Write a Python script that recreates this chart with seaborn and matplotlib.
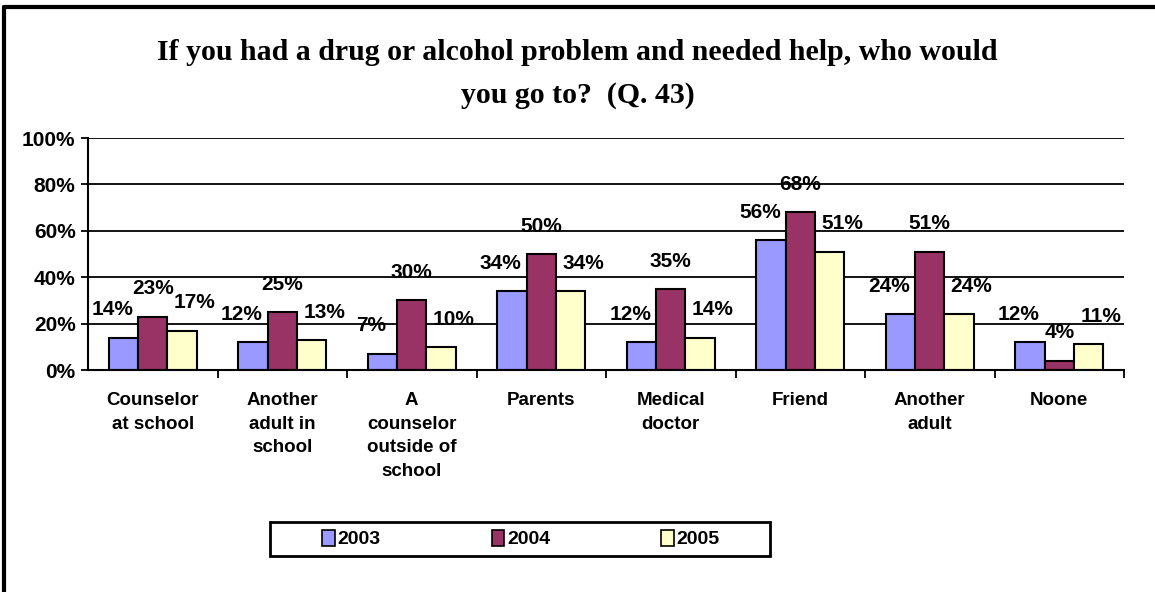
import seaborn as sns
import matplotlib.pyplot as plt
import matplotlib.lines as mlines
import pandas as pd

sns.set_theme(style="white")
plt.rcParams['font.family'] = ['Liberation Sans', 'DejaVu Sans']
plt.rcParams['font.weight'] = 'bold'
plt.rcParams['text.color'] = 'black'
plt.rcParams['xtick.color'] = 'black'
plt.rcParams['ytick.color'] = 'black'

categories = ["Counselor\nat school", "Another\nadult in\nschool",
              "A\ncounselor\noutside of\nschool", "Parents", "Medical\ndoctor",
              "Friend", "Another\nadult", "Noone"]
years = ["2003", "2004", "2005"]
v2003 = [14, 12, 7, 34, 12, 56, 24, 12]
v2004 = [23, 25, 30, 50, 35, 68, 51, 4]
v2005 = [17, 13, 10, 34, 14, 51, 24, 11]
colors = ["#9999FF", "#993366", "#FFFFCC"]
yticks = [0, 20, 40, 60, 80, 100]

rows = []
for yr, vals in zip(years, [v2003, v2004, v2005]):
    for c, v in zip(categories, vals):
        rows.append({"who": c, "year": yr, "pct": v})
df = pd.DataFrame(rows)

fig = plt.figure(figsize=(11.55, 5.92), dpi=100)
ax = fig.add_axes([88/1155, 1-370/592, (1124-88)/1155, 232/592])

sns.barplot(data=df, x="who", y="pct", hue="year", palette=colors,
            order=categories, hue_order=years, width=0.68, gap=0,
            edgecolor="black", linewidth=1.5, saturation=1, ax=ax, legend=False)

# data labels, spread sideways like the original
offs = [-8, 0, 9]
for cont, off in zip(ax.containers, offs):
    for bar in cont:
        h = bar.get_height()
        ax.annotate(f"{h:.0f}%", (bar.get_x() + bar.get_width()/2, h),
                    xytext=(off, 20), textcoords="offset points",
                    ha="center", va="center", fontsize=15, fontweight="bold")

ax.set_ylim(0, 100)
ax.set_xlim(-0.5, len(categories) - 0.5)
ax.set_yticks(yticks)
ax.set_yticklabels([f"{t}%" for t in yticks], fontsize=15, fontweight="bold")
ax.yaxis.grid(True, color="black", linewidth=1.3)
ax.set_axisbelow(True)
ax.set_xlabel("")
ax.set_ylabel("")
ax.set_xticks(range(len(categories)))
ax.set_xticklabels(categories, fontsize=13.5, fontweight="bold",
                   va="top", linespacing=1.5)
ax.tick_params(axis="x", length=0, pad=16)
ax.tick_params(axis="y", left=True, length=5, width=1.3, color="black", pad=4)
ax.set_xticks([i + 0.5 for i in range(len(categories))], minor=True)
ax.tick_params(axis="x", which="minor", bottom=True, length=6, width=1.3, color="black")
for s in ["top", "right"]:
    ax.spines[s].set_visible(False)
for s in ["left", "bottom"]:
    ax.spines[s].set_color("black")
    ax.spines[s].set_linewidth(1.5)

fig.text(0.5, 1-74/592,
         "If you had a drug or alcohol problem and needed help, who would\nyou go to?  (Q. 43)",
         ha="center", va="center", multialignment="center", fontsize=21.5,
         fontweight="bold", family="Liberation Serif", linespacing=1.75)

# legend box drawn by hand, entries centred in equal thirds
fig.add_artist(plt.Rectangle((270/1155, 1-556/592), 500/1155, 34/592,
                             transform=fig.transFigure, facecolor="white",
                             edgecolor="black", linewidth=2))
handles = [plt.Rectangle((0, 0), 1, 1, facecolor=c, edgecolor="black", linewidth=1.2)
           for c in colors]
leg = fig.legend(handles, years, ncol=3, loc="center",
                 bbox_to_anchor=(521/1155, 1-539/592),
                 prop={"size": 14, "weight": "bold"}, handlelength=0.65,
                 handleheight=0.9, handletextpad=0.15, columnspacing=5.7,
                 frameon=False, borderaxespad=0)

# outer chart border (top and left only visible)
fig.add_artist(mlines.Line2D([4/1155, 1], [1-7/592, 1-7/592], color="black", linewidth=3))
fig.add_artist(mlines.Line2D([4/1155, 4/1155], [0, 1-7/592], color="black", linewidth=3))

fig.savefig("out.png", dpi=100, facecolor="white")
